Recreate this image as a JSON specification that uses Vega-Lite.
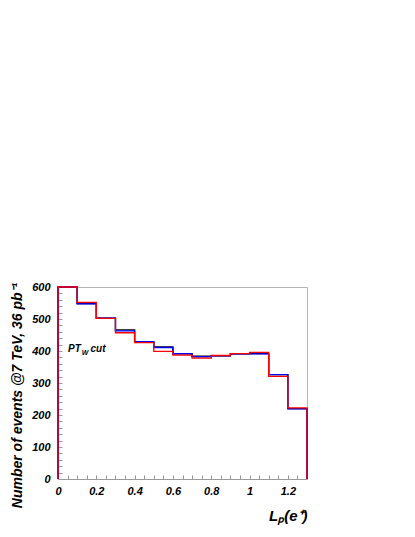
{
  "$schema": "https://vega.github.io/schema/vega-lite/v6.json",
  "autosize": {"type": "none"},
  "width": 249,
  "height": 192,
  "padding": {"left": 58, "top": 287, "right": 108, "bottom": 58},
  "background": "white",
  "config": {
    "view": {"stroke": "#b4b4b4", "strokeWidth": 1},
    "font": "Liberation Sans"
  },
  "datasets": {
    "hist": [
      {"series": "black", "i": 0, "x": 0, "y": 0},
      {"series": "black", "i": 1, "x": 0, "y": 600},
      {"series": "black", "i": 2, "x": 0.1, "y": 548},
      {"series": "black", "i": 3, "x": 0.2, "y": 503},
      {"series": "black", "i": 4, "x": 0.3, "y": 466},
      {"series": "black", "i": 5, "x": 0.4, "y": 429},
      {"series": "black", "i": 6, "x": 0.5, "y": 413},
      {"series": "black", "i": 7, "x": 0.6, "y": 391},
      {"series": "black", "i": 8, "x": 0.7, "y": 384},
      {"series": "black", "i": 9, "x": 0.8, "y": 385},
      {"series": "black", "i": 10, "x": 0.9, "y": 391},
      {"series": "black", "i": 11, "x": 1.0, "y": 392},
      {"series": "black", "i": 12, "x": 1.1, "y": 326},
      {"series": "black", "i": 13, "x": 1.2, "y": 220},
      {"series": "black", "i": 14, "x": 1.3, "y": 220},
      {"series": "black", "i": 15, "x": 1.3, "y": 0},
      {"series": "blue", "i": 0, "x": 0, "y": 0},
      {"series": "blue", "i": 1, "x": 0, "y": 600},
      {"series": "blue", "i": 2, "x": 0.1, "y": 547},
      {"series": "blue", "i": 3, "x": 0.2, "y": 503},
      {"series": "blue", "i": 4, "x": 0.3, "y": 463},
      {"series": "blue", "i": 5, "x": 0.4, "y": 429},
      {"series": "blue", "i": 6, "x": 0.5, "y": 411},
      {"series": "blue", "i": 7, "x": 0.6, "y": 392},
      {"series": "blue", "i": 8, "x": 0.7, "y": 382},
      {"series": "blue", "i": 9, "x": 0.8, "y": 385},
      {"series": "blue", "i": 10, "x": 0.9, "y": 391},
      {"series": "blue", "i": 11, "x": 1.0, "y": 391},
      {"series": "blue", "i": 12, "x": 1.1, "y": 326},
      {"series": "blue", "i": 13, "x": 1.2, "y": 219},
      {"series": "blue", "i": 14, "x": 1.3, "y": 219},
      {"series": "blue", "i": 15, "x": 1.3, "y": 0},
      {"series": "red", "i": 0, "x": 0, "y": 0},
      {"series": "red", "i": 1, "x": 0, "y": 600},
      {"series": "red", "i": 2, "x": 0.1, "y": 552},
      {"series": "red", "i": 3, "x": 0.2, "y": 502},
      {"series": "red", "i": 4, "x": 0.3, "y": 457},
      {"series": "red", "i": 5, "x": 0.4, "y": 426},
      {"series": "red", "i": 6, "x": 0.5, "y": 399},
      {"series": "red", "i": 7, "x": 0.6, "y": 387},
      {"series": "red", "i": 8, "x": 0.7, "y": 378},
      {"series": "red", "i": 9, "x": 0.8, "y": 386},
      {"series": "red", "i": 10, "x": 0.9, "y": 392},
      {"series": "red", "i": 11, "x": 1.0, "y": 396},
      {"series": "red", "i": 12, "x": 1.1, "y": 321},
      {"series": "red", "i": 13, "x": 1.2, "y": 222},
      {"series": "red", "i": 14, "x": 1.3, "y": 222},
      {"series": "red", "i": 15, "x": 1.3, "y": 0}
    ],
    "notes": [
      {"x": 0.052, "y": 405, "t": "PT", "s": 10},
      {"x": 0.124, "y": 395, "t": "W", "s": 7},
      {"x": 0.17, "y": 405, "t": "cut", "s": 10}
    ]
  },
  "layer": [
    {
      "data": {"name": "hist"},
      "mark": {"type": "line", "interpolate": "step-after", "strokeWidth": 1.3, "clip": false},
      "encoding": {
        "x": {
          "field": "x", "type": "quantitative",
          "scale": {"domain": [0, 1.3], "nice": false, "zero": false},
          "axis": {
            "values": [0, 0.05, 0.1, 0.15, 0.2, 0.25, 0.3, 0.35, 0.4, 0.45, 0.5, 0.55, 0.6, 0.65, 0.7, 0.75, 0.8, 0.85, 0.9, 0.95, 1.0, 1.05, 1.1, 1.15, 1.2, 1.25, 1.3],
            "tickCount": 200,
            "labelExpr": "(abs(datum.value*5 - round(datum.value*5)) < 0.001 && datum.value < 1.25) ? format(datum.value, '~g') : ''",
            "labelOverlap": false,
            "grid": false,
            "domainColor": "#999999",
            "tickColor": "#999999",
            "tickSize": -4,
            "labelPadding": 10,
            "labelFont": "Liberation Sans",
            "labelFontSize": 11,
            "labelFontWeight": "bold",
            "labelFontStyle": "italic",
            "labelColor": "black",
            "labelFlush": false,
            "title": "Lₚ(e⁺)",
            "titleFont": "Liberation Sans",
            "titleFontSize": 15,
            "titleFontWeight": "bold",
            "titleFontStyle": "italic",
            "titleColor": "black",
            "titleAnchor": "end",
            "titleAlign": "right",
            "titlePadding": 12
          }
        },
        "y": {
          "field": "y", "type": "quantitative",
          "scale": {"domain": [0, 600], "nice": false},
          "axis": {
            "values": [0, 20, 40, 60, 80, 100, 120, 140, 160, 180, 200, 220, 240, 260, 280, 300, 320, 340, 360, 380, 400, 420, 440, 460, 480, 500, 520, 540, 560, 580, 600],
            "tickCount": 200,
            "labelExpr": "datum.value % 100 == 0 ? datum.label : ''",
            "labelOverlap": false,
            "grid": false,
            "domainColor": "#999999",
            "tickColor": "#999999",
            "tickSize": -4,
            "labelPadding": 12,
            "labelFont": "Liberation Sans",
            "labelFontSize": 11,
            "labelFontWeight": "bold",
            "labelFontStyle": "italic",
            "labelColor": "black",
            "labelFlush": false,
            "title": "Number of events @7 TeV, 36 pb⁻¹",
            "titleFont": "Liberation Sans",
            "titleFontSize": 14,
            "titleFontWeight": "bold",
            "titleFontStyle": "italic",
            "titleColor": "black",
            "titleY": 108,
            "titlePadding": 7
          }
        },
        "color": {
          "field": "series", "type": "nominal",
          "scale": {"domain": ["black", "blue", "red"], "range": ["#000000", "#0000ff", "#ff0000"]},
          "legend": null
        },
        "order": {"field": "i", "type": "quantitative"}
      }
    },
    {
      "data": {"name": "notes"},
      "mark": {"type": "text", "align": "left", "baseline": "middle", "font": "Liberation Sans", "fontWeight": "bold", "fontStyle": "italic", "color": "black"},
      "encoding": {
        "x": {"field": "x", "type": "quantitative"},
        "y": {"field": "y", "type": "quantitative"},
        "text": {"field": "t"},
        "size": {"field": "s", "type": "quantitative", "scale": null, "legend": null}
      }
    }
  ]
}
